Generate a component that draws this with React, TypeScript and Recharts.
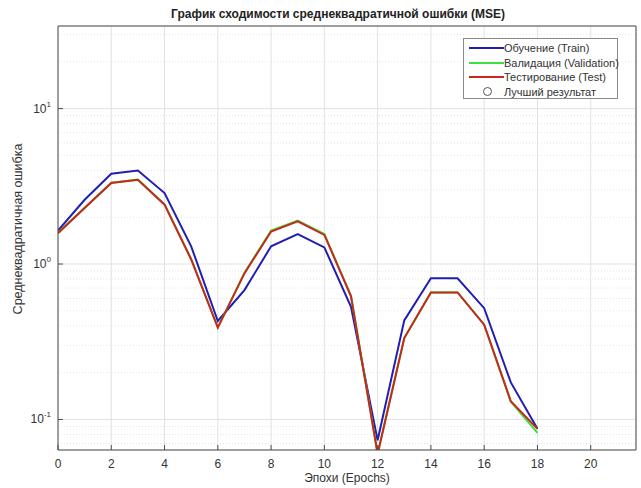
import React from 'react';
import { LineChart, Line, XAxis, YAxis, CartesianGrid, ReferenceLine } from 'recharts';

const epochs = [0, 1, 2, 3, 4, 5, 6, 7, 8, 9, 10, 11, 12, 13, 14, 15, 16, 17, 18];
const trainMse = [1.64, 2.59, 3.81, 4.0, 2.86, 1.3, 0.43, 0.68, 1.3, 1.56, 1.28, 0.53, 0.0734, 0.434, 0.81, 0.81, 0.52, 0.173, 0.087];
const valMse = [1.59, 2.3, 3.33, 3.49, 2.42, 1.08, 0.39, 0.88, 1.64, 1.9, 1.56, 0.625, 0.06, 0.334, 0.657, 0.657, 0.407, 0.13, 0.082];
const testMse = [1.58, 2.29, 3.32, 3.48, 2.41, 1.07, 0.39, 0.87, 1.62, 1.88, 1.54, 0.62, 0.06, 0.334, 0.656, 0.656, 0.407, 0.131, 0.087];

const xTicks = [0, 2, 4, 6, 8, 10, 12, 14, 16, 18, 20];
const yMajor = [0.1, 1, 10];
const yMinor = [0.07, 0.08, 0.09, 0.2, 0.3, 0.4, 0.5, 0.6, 0.7, 0.8, 0.9, 2, 3, 4, 5, 6, 7, 8, 9, 20, 30];

const data = epochs.map((e, i) => ({ epoch: e, train: trainMse[i], val: valMse[i], test: testMse[i] }));

const FONT = '"Liberation Sans", Arial, sans-serif';
const AXIS = '#4d4d4d';
const TXT = '#333';
const yDomain = [0.0636, 34];
const xDomain = [0, 21.7];

const PowTick = (props: any) => {
  const { x, y, payload } = props;
  const exp = Math.round(Math.log10(payload.value));
  return (
    <text x={x - 1} y={y + 4} textAnchor="end" fill={TXT} fontSize={12} fontFamily={FONT}>
      <tspan>10</tspan>
      <tspan dy={-6} fontSize={8}>{exp}</tspan>
    </text>
  );
};

const LegendBox = () => {
  const rows = [
    { label: 'Обучение (Train)', color: '#1f1fb4', kind: 'line' },
    { label: 'Валидация (Validation)', color: '#3ee03e', kind: 'line' },
    { label: 'Тестирование (Test)', color: '#c8281c', kind: 'line' },
    { label: 'Лучший результат', color: '#555', kind: 'circle' },
  ];
  return (
    <div style={{ position: 'absolute', left: 463, top: 38, width: 153, height: 59, background: '#fff', border: '1px solid #8a8a8a', fontFamily: FONT, fontSize: 11, color: TXT }}>
      {rows.map((r, i) => (
        <div key={i} style={{ position: 'absolute', left: 0, top: 2 + i * 14.5, height: 14, display: 'flex', alignItems: 'center' }}>
          <div style={{ width: 40, display: 'flex', justifyContent: 'center', alignItems: 'center' }}>
            {r.kind === 'line' ? (
              <div style={{ width: 35, height: 2, background: r.color, marginLeft: 4 }} />
            ) : (
              <div style={{ width: 7, height: 7, borderRadius: '50%', border: '1px solid #555', marginLeft: 6 }} />
            )}
          </div>
          <span style={{ whiteSpace: 'nowrap' }}>{r.label}</span>
        </div>
      ))}
    </div>
  );
};

export default function App() {
  return (
    <div style={{ position: 'absolute', left: 0, top: 0, width: 641, height: 488, background: '#fff', overflow: 'hidden' }}>
      <LineChart width={641} height={488} data={data} margin={{ top: 25, right: 3, bottom: 37, left: 56 }}>
        <CartesianGrid xAxisId="b" yAxisId="l" stroke="#e2e2e2" strokeWidth={1} />
        {yMinor.map((v) => (
          <ReferenceLine key={v} xAxisId="b" yAxisId="l" y={v} stroke="#e4e4e4" strokeDasharray="1 2" ifOverflow="hidden" />
        ))}
        <XAxis xAxisId="b" dataKey="epoch" type="number" domain={xDomain} ticks={xTicks} interval={0} allowDataOverflow height={1}
          tickSize={-5} tickMargin={14} stroke={AXIS} axisLine={{ stroke: AXIS }} tick={{ fill: TXT, fontSize: 12, fontFamily: FONT }} />
        <XAxis xAxisId="t" orientation="top" dataKey="epoch" type="number" domain={xDomain} ticks={xTicks} interval={0} allowDataOverflow height={1}
          tickSize={-5} stroke={AXIS} tick={false} />
        <YAxis yAxisId="l" scale="log" type="number" domain={yDomain} allowDataOverflow ticks={yMajor} interval={0} width={1}
          tickSize={-5} tickMargin={11} stroke={AXIS} tick={<PowTick />} />
        <YAxis yAxisId="lm" scale="log" type="number" domain={yDomain} allowDataOverflow ticks={yMinor} interval={0} width={1}
          tickSize={-3} stroke={AXIS} axisLine={false} tick={false} />
        <YAxis yAxisId="r" orientation="right" scale="log" type="number" domain={yDomain} allowDataOverflow ticks={yMajor} interval={0} width={1}
          tickSize={-5} stroke={AXIS} tick={false} />
        <YAxis yAxisId="rm" orientation="right" scale="log" type="number" domain={yDomain} allowDataOverflow ticks={yMinor} interval={0} width={1}
          tickSize={-3} stroke={AXIS} axisLine={false} tick={false} />
        <Line xAxisId="b" yAxisId="l" dataKey="train" stroke="#1f1fb4" strokeWidth={2} dot={false} isAnimationActive={false} />
        <Line xAxisId="b" yAxisId="l" dataKey="val" stroke="#3ee03e" strokeWidth={2} dot={false} isAnimationActive={false} />
        <Line xAxisId="b" yAxisId="l" dataKey="test" stroke="#c8281c" strokeWidth={2} dot={false} isAnimationActive={false} />
        <text x={338} y={18} textAnchor="middle" fontSize={12} fontWeight="bold" fontFamily={FONT} fill="#222">
          График сходимости среднеквадратичной ошибки (MSE)
        </text>
        <text x={347} y={482} textAnchor="middle" fontSize={12} fontFamily={FONT} fill={TXT}>
          Эпохи (Epochs)
        </text>
        <text x={22} y={229} textAnchor="middle" fontSize={12.5} fontFamily={FONT} fill={TXT} transform="rotate(-90 22 229)">
          Среднеквадратичная ошибка
        </text>
      </LineChart>
      <LegendBox />
    </div>
  );
}
